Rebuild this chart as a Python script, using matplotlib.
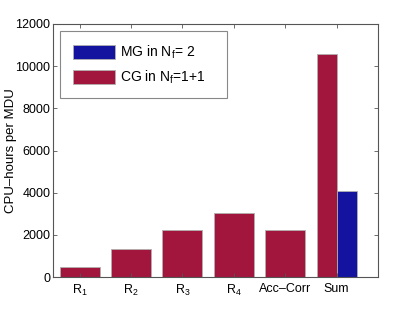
import matplotlib.pyplot as plt
import numpy as np

plt.rcParams["font.family"] = ["Liberation Sans", "DejaVu Sans"]
plt.rcParams["mathtext.fontset"] = "custom"
plt.rcParams["mathtext.rm"] = "Liberation Sans"
plt.rcParams["mathtext.it"] = "Liberation Sans"

categories = ["R$_1$", "R$_2$", "R$_3$", "R$_4$", "Acc\u2013Corr", "Sum"]
cg_hours = [460, 1320, 2230, 3020, 2230, 10600]
mg_sum = 4090

RED = "#a2153d"
BLUE = "#1313a0"
EDGE = "#b0b0b0"

fig = plt.figure(figsize=(4.17, 3.12), dpi=100)
ax = fig.add_axes([53 / 417, 1 - 277 / 312, 324.7 / 417, 253 / 312])

x = np.arange(1, len(categories) + 1)
width = 0.78

# single bars for the parts, grouped pair for the sum
ax.bar(x[:-1], cg_hours[:-1], width=width, color=RED, edgecolor=EDGE, linewidth=0.6)
ax.bar(x[-1] - width / 4, cg_hours[-1], width=width / 2, color=RED,
       edgecolor=EDGE, linewidth=0.6, label="CG in N$_\\mathrm{f}$=1+1")
ax.bar(x[-1] + width / 4, mg_sum, width=width / 2, color=BLUE,
       edgecolor=EDGE, linewidth=0.6, label="MG in N$_\\mathrm{f}$= 2")

ax.set_xlim(0.482, 6.80)
ax.set_ylim(0, 12000)
ax.set_xticks(x)
ax.set_xticklabels(categories)
ax.set_yticks(range(0, 12001, 2000))
ax.set_ylabel("CPU\u2013hours per MDU", fontsize=9.5, va="center")
ax.yaxis.set_label_coords(-0.128, 0.5)

ax.tick_params(direction="in", top=True, right=True, length=3,
               width=0.6, color="#555555", labelsize=9, pad=2)
ax.tick_params(axis="x", pad=4)
for spine in ax.spines.values():
    spine.set_color("#555555")
    spine.set_linewidth(0.8)

handles, labels = ax.get_legend_handles_labels()
leg = ax.legend(handles[::-1], labels[::-1], loc="upper left",
                bbox_to_anchor=(7 / 324.7, 1 - 7 / 253, 167 / 324.7, 0),
                mode="expand", fontsize=10,
                fancybox=False, edgecolor="#888888", framealpha=1,
                handlelength=3.05, handleheight=1.2, borderpad=0.9,
                labelspacing=0.55, handletextpad=0.35, borderaxespad=0)
leg.get_frame().set_linewidth(0.8)

fig.savefig("out.png", dpi=100)
